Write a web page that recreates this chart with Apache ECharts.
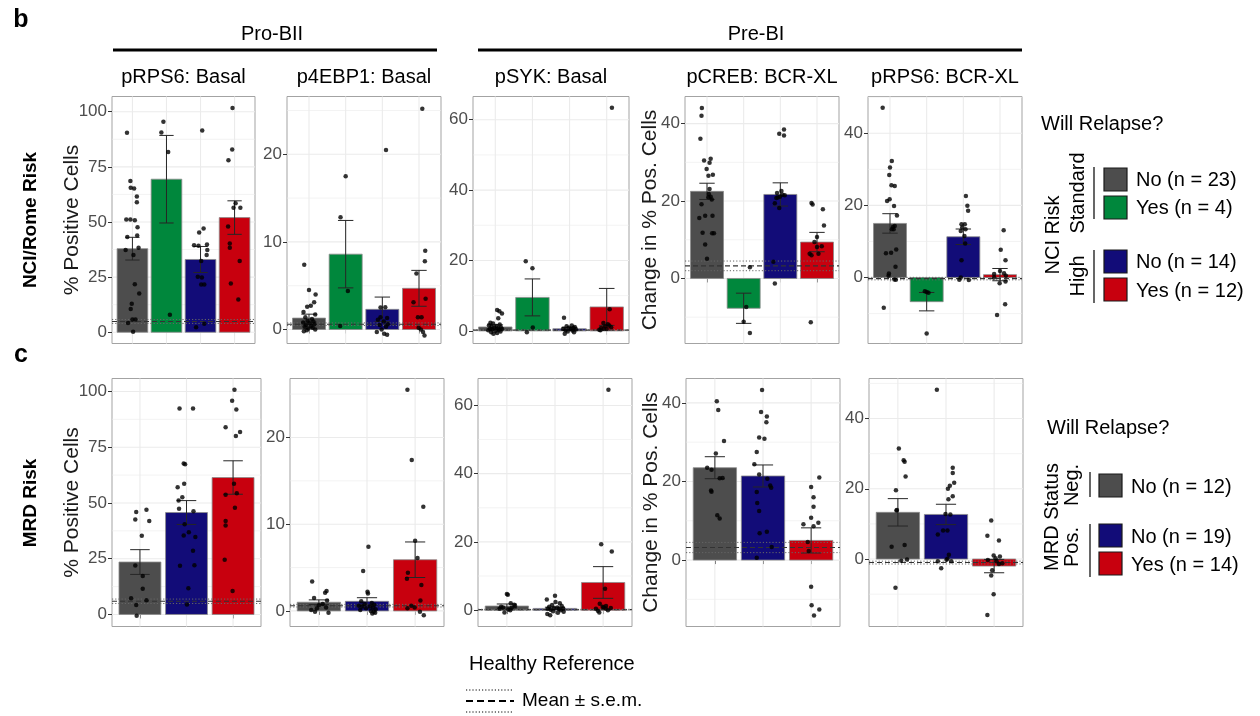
<!DOCTYPE html>
<html>
<head>
<meta charset="utf-8">
<script src="https://cdn.jsdelivr.net/npm/echarts@6/dist/echarts.min.js"></script>
<style>
  html, body { margin: 0; padding: 0; background: #fff; }
  #chart { width: 1260px; height: 716px; }
</style>
</head>
<body>
<div id="chart"></div>
<script>
// groups shown in each row
const nciGroups = ['Standard / No', 'Standard / Yes', 'High / No', 'High / Yes'];
const nciCounts = [23, 4, 14, 12];
const mrdGroups = ['Neg. / No', 'Pos. / No', 'Pos. / Yes'];
const mrdCounts = [12, 19, 14];

// tick labels per marker
const rps6BasalTicks = [0, 25, 50, 75, 100];
const ebp1BasalTicks = [0, 10, 20];
const sykBasalTicks = [0, 20, 40, 60];
const crebXlTicks = [0, 20, 40];
const rps6XlTicks = [0, 20, 40];

// ---------- NCI/Rome risk row ----------
const rps6BasalNciRange = [-5.1, 106.9];
const rps6BasalNciMean = [37.9, 69.4, 33.0, 52.0];
const rps6BasalNciSem = [5.15, 19.85, 5.9, 7.6];
const rps6BasalNciRef = [4.9, 0.9];
const rps6BasalNciPoints = [
  [0,-0.16,90.5],[0,-0.06,68.6],[0,-0.05,65.5],[0,0.05,65.2],[0,0.13,61.5],[0,0.13,58.9],[0,-0.18,51.1],[0,-0.06,51.1],
  [0,0.07,50.8],[0,0.15,47.6],[0,0.14,43.9],[0,-0.15,43.2],[0,0.18,38.3],[0,-0.2,37.3],[0,0.03,35.0],[0,0.07,21.8],
  [0,0.2,17.6],[0,-0.02,12.9],[0,-0.05,10.6],[0,0,5.8],[0,0.09,5.8],[0,-0.13,4.2],[0,0.02,0.2],
  [1,-0.09,95.5],[1,-0.15,90.6],[1,0.05,81.7],[1,0.1,7.9],
  [2,0.05,91.5],[2,0.09,47.1],[2,-0.04,45.2],[2,-0.19,39.4],[2,-0.06,39.2],[2,0.19,39.8],[2,0.2,37.3],[2,0.18,35.0],
  [2,0.02,32.3],[2,-0.08,25.2],[2,0.04,24.8],[2,0.02,21.7],[2,0.11,21.7],[2,0.11,3.9],[2,-0.13,2.3],
  [3,-0.06,101.7],[3,-0.07,82.9],[3,-0.18,78.0],[3,0.03,58.5],[3,0.17,56.5],[3,-0.03,56.5],[3,-0.19,47.9],[3,-0.14,40.2],
  [3,-0.14,38.3],[3,0.15,32.3],[3,-0.11,22.1],[3,0.11,14.8]
];

const ebp1BasalNciRange = [-1.6, 26.6];
const ebp1BasalNciMean = [1.3, 8.6, 2.3, 4.7];
const ebp1BasalNciSem = [0.45, 3.85, 1.4, 2.05];
const ebp1BasalNciRef = [0.6, 0.15];
const ebp1BasalNciPoints = [
  [0,-0.13,7.4],[0,0,4.5],[0,0.18,4.0],[0,0.14,3.1],[0,0.05,2.7],[0,-0.05,2.6],[0,-0.15,2.0],[0,0.17,1.7],[0,-0.1,1.4],
  [0,0.08,1.2],[0,-0.04,1.0],[0,0.12,0.9],[0,-0.16,0.8],[0,0.02,0.7],[0,0.15,0.6],[0,-0.08,0.5],[0,0.06,0.4],[0,-0.12,0.3],
  [0,0.1,0.2],[0,-0.02,0.1],[0,0.17,0.0],[0,-0.06,-0.1],[0,-0.14,-0.2],
  [1,0,17.5],[1,-0.14,12.8],[1,0.06,4.4],[1,-0.15,0.4],
  [2,0.1,20.5],[2,-0.05,2.5],[2,0.08,2.55],[2,-0.05,1.4],[2,0.13,1.3],[2,-0.12,1.1],[2,0.04,0.9],[2,0.15,0.6],[2,-0.07,0.5],
  [2,0.1,0.3],[2,-0.02,0.0],[2,-0.15,-0.3],[2,0.05,-0.5],[2,0.13,-0.6],
  [3,0.09,25.2],[3,0.17,9.0],[3,0.16,7.8],[3,-0.07,6.4],[3,-0.15,3.1],[3,0.18,3.5],[3,-0.03,1.4],[3,0.07,1.4],[3,-0.01,0.2],
  [3,0.05,0],[3,0.11,-0.3],[3,0.15,-0.7]
];

const sykBasalNciRange = [-3.6, 66.6];
const sykBasalNciMean = [1.1, 9.5, 0.6, 6.8];
const sykBasalNciSem = [0.6, 5.25, 0.4, 5.25];
const sykBasalNciRef = [0.2, 0.12];
const sykBasalNciPoints = [
  [0,0.05,5.9],[0,0.11,5.6],[0,0.18,4.9],[0,0.08,3.6],[0,-0.13,2.3],[0,-0.06,2.1],[0,0.12,1.8],[0,-0.17,1.6],[0,0.03,1.4],
  [0,-0.1,1.2],[0,0.15,1.0],[0,-0.03,0.9],[0,0.07,0.7],[0,-0.14,0.6],[0,0.18,0.5],[0,-0.08,0.4],[0,0.1,0.3],[0,-0.19,0.2],
  [0,0.01,0.0],[0,0.14,-0.2],[0,-0.11,-0.4],[0,0.05,-0.6],[0,-0.05,-0.8],
  [1,-0.18,19.8],[1,0,17.8],[1,0.01,0.95],[1,-0.15,-0.4],
  [2,-0.15,3.7],[2,0.06,1.5],[2,-0.08,1.3],[2,0.14,1.1],[2,-0.02,0.9],[2,0.1,0.8],[2,-0.17,0.6],[2,0.03,0.5],[2,0.17,0.4],
  [2,-0.11,0.2],[2,0.08,0.1],[2,-0.05,-0.2],[2,0.12,-0.4],[2,-0.13,-0.8],
  [3,0.14,63.4],[3,0.08,6.1],[3,-0.09,2.2],[3,0.03,1.9],[3,0.07,1.5],[3,-0.04,1.3],[3,0.12,1.0],[3,-0.15,0.8],[3,-0.08,0.6],
  [3,0,0.5],[3,-0.2,0.3],[3,-0.17,0.2]
];

const crebXlNciRange = [-16.8, 47];
const crebXlNciMean = [22.5, -7.7, 21.7, 9.4];
const crebXlNciSem = [2.1, 3.9, 3.0, 2.5];
const crebXlNciRef = [3.25, 1.25];
const crebXlNciPoints = [
  [0,-0.14,44.0],[0,-0.15,42.0],[0,-0.18,36.1],[0,-0.08,30.5],[0,0.1,30.9],[0,0.07,29.9],[0,-0.01,28.3],[0,0.16,26.8],
  [0,0.04,26.5],[0,0.07,23.1],[0,0.05,21.8],[0,0.1,21.1],[0,0.04,21.0],[0,0.13,20.4],[0,-0.15,19.2],[0,-0.21,15.6],
  [0,-0.05,16.2],[0,0.15,16.2],[0,-0.12,11.8],[0,0.14,11.7],[0,0.19,11.7],[0,-0.05,8.8],[0,0,5.1],
  [1,0.17,2.9],[1,0.07,-7.4],[1,0,-11.2],[1,0.17,-14.1],
  [2,-0.03,37.4],[2,0.1,38.5],[2,0.1,36.9],[2,0.03,22.6],[2,-0.09,22.1],[2,0.06,21.6],[2,0.12,21.5],[2,-0.01,21.1],
  [2,-0.07,20.9],[2,-0.11,20.8],[2,-0.15,19.4],[2,-0.03,18.2],[2,-0.19,4.3],[2,-0.15,-1.3],
  [3,-0.15,19.5],[3,-0.12,19.1],[3,0.16,17.9],[3,0.19,13.7],[3,0,10.7],[3,-0.07,9.4],[3,0.13,8.3],[3,0,8.1],[3,0.04,6.4],
  [3,-0.2,6.4],[3,-0.15,6.0],[3,-0.17,-11.3]
];

const rps6XlNciRange = [-18.3, 50.2];
const rps6XlNciMean = [15.0, -6.7, 11.3, 0.8];
const rps6XlNciSem = [2.7, 2.55, 2.15, 1.7];
const rps6XlNciRef = [-0.3, 0.35];
const rps6XlNciPoints = [
  [0,-0.2,47.1],[0,0.05,32.3],[0,0,30.5],[0,-0.02,28.4],[0,0.04,25.6],[0,0.13,25.4],[0,-0.01,21.7],[0,-0.08,21.2],
  [0,0.11,19.8],[0,0.19,17.2],[0,0.13,14.3],[0,0.08,14.0],[0,0.1,13.4],[0,0.05,13.4],[0,0.17,7.8],[0,0.03,6.9],
  [0,-0.11,6.7],[0,0.15,3.0],[0,-0.03,1.1],[0,-0.04,0.5],[0,0.12,-0.55],[0,0.16,-0.6],[0,-0.17,-8.4],
  [1,-0.05,-3.8],[1,0,-4.0],[1,0.05,-4.2],[1,0,-15.5],
  [2,0.07,22.6],[2,0.11,19.9],[2,0.13,18.5],[2,-0.05,14.8],[2,0.04,14.8],[2,-0.03,13.9],[2,0.06,13.4],[2,-0.07,12.9],
  [2,0.03,11.5],[2,0.05,9.4],[2,-0.05,4.8],[2,-0.07,0],[2,-0.11,-0.6],[2,0.15,-0.7],
  [3,0.1,13.1],[3,0.02,7.7],[3,0.15,4.8],[3,0,1.8],[3,0.11,1.2],[3,-0.16,1.0],[3,0.16,0.5],[3,-0.16,0.0],[3,0.15,-1.1],
  [3,-0.01,-1.6],[3,0.14,-7.4],[3,-0.08,-10.4]
];

// ---------- MRD risk row ----------
const rps6BasalMrdRange = [-5.4, 105.8];
const rps6BasalMrdMean = [23.5, 45.7, 61.4];
const rps6BasalMrdSem = [5.55, 5.35, 7.5];
const rps6BasalMrdRef = [5.9, 1.0];
const rps6BasalMrdPoints = [
  [0,0.14,46.9],[0,-0.08,45.9],[0,-0.1,42.6],[0,0.2,41.9],[0,0.04,35.3],[0,-0.1,22.0],[0,0.06,17.2],[0,0.06,11.5],
  [0,-0.19,7.3],[0,0.14,6.4],[0,-0.08,4.2],[0,-0.07,-0.6],
  [1,-0.15,92.4],[1,0.14,92.4],[1,-0.06,67.7],[1,-0.03,67.3],[1,-0.05,58.6],[1,-0.19,57.0],[1,-0.09,52.6],[1,-0.17,51.1],
  [1,-0.16,47.4],[1,0.15,46.3],[1,-0.04,40.5],[1,0.05,36.9],[1,-0.06,35.4],[1,0.19,34.7],[1,0.14,28.6],[1,-0.14,21.8],
  [1,0.17,22.1],[1,0.04,11.8],[1,0.01,4.5],
  [2,0.03,100.7],[2,-0.02,95.8],[2,0.07,91.9],[2,-0.16,83.9],[2,0.15,81.8],[2,0.06,80.0],[2,0.02,58.6],[2,-0.16,53.7],
  [2,0.08,54.3],[2,0.04,47.8],[2,-0.16,41.9],[2,-0.16,39.9],[2,-0.18,24.5],[2,-0.01,10.5]
];

const ebp1BasalMrdRange = [-1.8, 26.8];
const ebp1BasalMrdMean = [1.0, 1.1, 5.9];
const ebp1BasalMrdSem = [0.27, 0.42, 2.05];
const ebp1BasalMrdRef = [0.6, 0.15];
const ebp1BasalMrdPoints = [
  [0,-0.14,3.4],[0,0.16,2.3],[0,0.13,2.1],[0,-0.1,1.5],[0,0.17,1.2],[0,0.08,0.8],[0,0,0.65],[0,0.15,0.4],[0,-0.04,0.3],
  [0,-0.16,0.1],[0,-0.08,-0.1],[0,0.2,-0.2],
  [1,0.03,7.4],[1,-0.08,4.6],[1,0.01,2.2],[1,0.02,2.0],[1,-0.12,1.1],[1,0.1,0.9],[1,-0.05,0.8],[1,0.15,0.7],[1,-0.17,0.6],
  [1,0.06,0.5],[1,-0.1,0.5],[1,0.12,0.4],[1,-0.02,0.3],[1,0.18,0.2],[1,-0.14,0.1],[1,0.08,0.0],[1,0.14,-0.1],[1,0.17,-0.2],
  [1,0.11,-0.3],
  [2,-0.16,25.5],[2,-0.07,17.4],[2,0.17,12.0],[2,0,8.1],[2,0.05,6.1],[2,-0.15,4.4],[2,-0.17,3.7],[2,0.13,3.0],[2,0.11,1.2],
  [2,-0.08,0.6],[2,-0.01,0.4],[2,-0.16,0.3],[2,0.1,-0.1],[2,0.18,-0.5]
];

const sykBasalMrdRange = [-4.8, 67.9];
const sykBasalMrdMean = [1.2, 0.5, 8.1];
const sykBasalMrdSem = [0.6, 0.35, 4.65];
const sykBasalMrdRef = [0.15, 0.1];
const sykBasalMrdPoints = [
  [0,0,4.7],[0,0.02,4.5],[0,0.08,2.0],[0,0.15,1.6],[0,0.17,1.2],[0,-0.12,1.0],[0,-0.08,0.8],[0,0.1,0.7],[0,-0.15,0.4],
  [0,0.03,0.2],[0,0.07,0.0],[0,-0.05,-0.7],
  [1,0,4.2],[1,-0.17,3.1],[1,0.01,2.4],[1,0.1,2.0],[1,-0.06,1.5],[1,0.14,1.2],[1,-0.12,1.0],[1,0.05,0.8],[1,-0.02,0.6],
  [1,0.17,0.5],[1,-0.15,0.4],[1,0.08,0.3],[1,-0.09,0.1],[1,0.12,0.0],[1,-0.04,-0.3],[1,0.18,-0.5],[1,0.06,-0.8],
  [1,-0.16,-1.1],[1,-0.1,-1.5],
  [2,0.11,64.6],[2,-0.04,19.3],[2,0.18,17.2],[2,0.04,6.3],[2,-0.07,1.9],[2,0.06,1.2],[2,-0.01,1.0],[2,0.01,0.8],[2,0.16,0.6],
  [2,0.05,0.5],[2,-0.15,0.4],[2,0.1,0.0],[2,-0.11,-0.2],[2,-0.08,-0.7]
];

const crebXlMrdRange = [-16.9, 46.2];
const crebXlMrdMean = [23.5, 21.4, 5.0];
const crebXlMrdSem = [2.8, 2.8, 3.2];
const crebXlMrdRef = [3.2, 1.3];
const crebXlMrdPoints = [
  [0,0.04,40.4],[0,0.07,38.2],[0,0.19,30.3],[0,0.02,27.1],[0,-0.16,23.5],[0,-0.07,23.0],[0,0.1,20.8],[0,0.16,20.9],
  [0,-0.08,17.7],[0,-0.07,17.4],[0,0.05,11.4],[0,0.1,10.6],
  [1,-0.02,43.3],[1,-0.04,37.7],[1,0.08,36.5],[1,0.07,35.1],[1,-0.08,31.2],[1,0.03,30.9],[1,-0.13,27.5],[1,-0.18,24.4],
  [1,-0.08,21.8],[1,0.09,20.7],[1,0.15,19.0],[1,0.17,18.4],[1,-0.13,17.3],[1,-0.12,14.5],[1,-0.08,12.5],[1,-0.07,6.8],
  [1,0.08,7.2],[1,0.18,3.3],[1,-0.13,0.6],
  [2,0.17,21.0],[2,0,18.6],[2,0.05,16.0],[2,0.05,13.6],[2,0,10.8],[2,0.15,9.5],[2,-0.16,9.1],[2,0.05,8.6],[2,-0.07,4.6],
  [2,-0.05,2.3],[2,0,-6.8],[2,0.01,-11.5],[2,0.17,-12.6],[2,0.06,-14.1]
];

const rps6XlMrdRange = [-19.2, 51.4];
const rps6XlMrdMean = [13.3, 12.7, -2.0];
const rps6XlMrdSem = [3.9, 2.9, 1.9];
const rps6XlMrdRef = [-1.0, 0.4];
const rps6XlMrdPoints = [
  [0,0.02,31.5],[0,0.12,28.1],[0,0.14,27.7],[0,0.16,23.5],[0,-0.04,19.6],[0,-0.02,14.0],[0,-0.03,13.8],[0,0.14,4.0],
  [0,-0.13,3.5],[0,0.07,-0.5],[0,0.19,-0.1],[0,-0.05,-8.2],
  [1,-0.19,48.2],[1,0.14,26.0],[1,0.14,24.5],[1,0.17,21.7],[1,0.08,20.9],[1,0.04,20.0],[1,0.14,17.9],[1,0.05,17.0],
  [1,-0.01,12.8],[1,0.09,12.7],[1,-0.06,8.1],[1,0.03,8.1],[1,-0.17,7.0],[1,0.06,1.2],[1,0.03,0.1],[1,0.01,-0.2],
  [1,-0.17,-0.6],[1,0.11,-0.6],[1,-0.1,-2.6],
  [2,-0.06,11.0],[2,-0.14,6.6],[2,0.1,5.3],[2,-0.01,1.0],[2,0.12,0.7],[2,0.03,0.2],[2,-0.13,-0.3],[2,0.05,-0.6],
  [2,0.17,-1.2],[2,0.1,-1.4],[2,-0.04,-3.2],[2,-0.06,-4.7],[2,-0.01,-10.0],[2,-0.14,-15.9]
];

// ---------- styling ----------
const FONT = '"Liberation Sans", Arial, sans-serif';
const GRAY = '#4d4d4d', GREEN = '#00873c', BLUE = '#120c78', RED = '#c8000e';
const nciColors = [GRAY, GREEN, BLUE, RED];
const mrdColors = [GRAY, BLUE, RED];

const panels = [
  { box: [112, 96.5, 143, 247], range: rps6BasalNciRange, ticks: rps6BasalTicks, mean: rps6BasalNciMean, sem: rps6BasalNciSem, ref: rps6BasalNciRef, pts: rps6BasalNciPoints, colors: nciColors, yName: '% Positive Cells', gap: 29 },
  { box: [287, 96.5, 154, 247], range: ebp1BasalNciRange, ticks: ebp1BasalTicks, mean: ebp1BasalNciMean, sem: ebp1BasalNciSem, ref: ebp1BasalNciRef, pts: ebp1BasalNciPoints, colors: nciColors },
  { box: [473, 96.5, 156, 247], range: sykBasalNciRange, ticks: sykBasalTicks, mean: sykBasalNciMean, sem: sykBasalNciSem, ref: sykBasalNciRef, pts: sykBasalNciPoints, colors: nciColors },
  { box: [685, 96.5, 154, 247], range: crebXlNciRange, ticks: crebXlTicks, mean: crebXlNciMean, sem: crebXlNciSem, ref: crebXlNciRef, pts: crebXlNciPoints, colors: nciColors, yName: 'Change in % Pos. Cells', gap: 24 },
  { box: [868, 96.5, 154, 247], range: rps6XlNciRange, ticks: rps6XlTicks, mean: rps6XlNciMean, sem: rps6XlNciSem, ref: rps6XlNciRef, pts: rps6XlNciPoints, colors: nciColors },
  { box: [112, 378.5, 149, 248], range: rps6BasalMrdRange, ticks: rps6BasalTicks, mean: rps6BasalMrdMean, sem: rps6BasalMrdSem, ref: rps6BasalMrdRef, pts: rps6BasalMrdPoints, colors: mrdColors, yName: '% Positive Cells', gap: 29 },
  { box: [290, 378.5, 154, 248], range: ebp1BasalMrdRange, ticks: ebp1BasalTicks, mean: ebp1BasalMrdMean, sem: ebp1BasalMrdSem, ref: ebp1BasalMrdRef, pts: ebp1BasalMrdPoints, colors: mrdColors },
  { box: [478, 378.5, 154, 248], range: sykBasalMrdRange, ticks: sykBasalTicks, mean: sykBasalMrdMean, sem: sykBasalMrdSem, ref: sykBasalMrdRef, pts: sykBasalMrdPoints, colors: mrdColors },
  { box: [686, 378.5, 154, 248], range: crebXlMrdRange, ticks: crebXlTicks, mean: crebXlMrdMean, sem: crebXlMrdSem, ref: crebXlMrdRef, pts: crebXlMrdPoints, colors: mrdColors, yName: 'Change in % Pos. Cells', gap: 24 },
  { box: [869, 378.5, 154, 248], range: rps6XlMrdRange, ticks: rps6XlTicks, mean: rps6XlMrdMean, sem: rps6XlMrdSem, ref: rps6XlMrdRef, pts: rps6XlMrdPoints, colors: mrdColors }
];

function minorTicks(ticks, range) {
  const step = ticks[1] - ticks[0];
  const out = [];
  for (let v = ticks[0] - step / 2; v <= range[1]; v += step) {
    if (v >= range[0]) out.push(v);
  }
  return out;
}

function renderGridLine(params, api) {
  const cs = params.coordSys;
  const vertical = api.value(0) === 1;
  const v = api.value(1);
  const style = { stroke: '#ebebeb', lineWidth: api.value(2) === 1 ? 0.6 : 1.1 };
  if (vertical) {
    const x = api.coord([v, 0])[0];
    return { type: 'line', shape: { x1: x, y1: cs.y, x2: x, y2: cs.y + cs.height }, style: style };
  }
  const y = api.coord([1, v])[1];
  return { type: 'line', shape: { x1: cs.x, y1: y, x2: cs.x + cs.width, y2: y }, style: style };
}

function barRenderer(colors) {
  return function (params, api) {
    const g = api.value(0);
    const p0 = api.coord([g + 1 - 0.45, 0]);
    const p1 = api.coord([g + 1 + 0.45, api.value(1)]);
    return {
      type: 'rect',
      shape: { x: p0[0], y: Math.min(p0[1], p1[1]), width: p1[0] - p0[0], height: Math.abs(p1[1] - p0[1]) },
      style: { fill: colors[g], stroke: '#8c8c8c', lineWidth: 0.8 }
    };
  };
}

function renderErrorBar(params, api) {
  const g = api.value(0) + 1;
  const lo = api.coord([g, api.value(1)]);
  const hi = api.coord([g, api.value(2)]);
  const half = (api.coord([g + 0.21, 0])[0] - api.coord([g, 0])[0]);
  const st = { stroke: '#262626', lineWidth: 1 };
  return {
    type: 'group',
    children: [
      { type: 'line', shape: { x1: lo[0], y1: lo[1], x2: hi[0], y2: hi[1] }, style: st },
      { type: 'line', shape: { x1: lo[0] - half, y1: lo[1], x2: lo[0] + half, y2: lo[1] }, style: st },
      { type: 'line', shape: { x1: hi[0] - half, y1: hi[1], x2: hi[0] + half, y2: hi[1] }, style: st }
    ]
  };
}

function renderRefLine(params, api) {
  const cs = params.coordSys;
  const y = api.coord([1, api.value(0)])[1];
  const dashed = api.value(1) === 0;
  return {
    type: 'line',
    shape: { x1: cs.x, y1: y, x2: cs.x + cs.width, y2: y },
    style: dashed
      ? { stroke: '#333', lineWidth: 1.1, lineDash: [5, 3] }
      : { stroke: '#666', lineWidth: 1, lineDash: [1.2, 2] }
  };
}

const grids = [], xAxes = [], yAxes = [], series = [];
panels.forEach(function (p, i) {
  const n = p.mean.length;
  const cats = p.mean.map(function (_, k) { return k + 1; });
  grids.push({ left: p.box[0], top: p.box[1], width: p.box[2], height: p.box[3], show: true, borderColor: '#a3a3a3', borderWidth: 1, backgroundColor: 'transparent' });
  xAxes.push({
    gridIndex: i, type: 'value', min: 0.4, max: n + 0.6,
    axisLine: { show: false }, splitLine: { show: false }, axisLabel: { show: false },
    axisTick: { show: true, customValues: cats, length: 4, lineStyle: { color: '#333', width: 1 } }
  });
  yAxes.push({
    gridIndex: i, type: 'value', min: p.range[0], max: p.range[1],
    axisLine: { show: false }, splitLine: { show: false },
    axisTick: { show: true, customValues: p.ticks, length: 4, lineStyle: { color: '#333', width: 1 } },
    axisLabel: { customValues: p.ticks, color: GRAY, fontSize: 17, fontFamily: FONT, margin: 5 },
    name: p.yName || '', nameLocation: 'middle', nameRotate: 90, nameGap: p.gap || 28,
    nameMoveOverlap: false,
    nameTextStyle: { fontSize: 21, fontFamily: FONT, color: '#1a1a1a' }
  });

  const gridLines = [];
  p.ticks.forEach(function (t) { gridLines.push([0, t, 0]); });
  minorTicks(p.ticks, p.range).forEach(function (t) { gridLines.push([0, t, 1]); });
  cats.forEach(function (c) { gridLines.push([1, c, 0]); });

  series.push({ type: 'custom', xAxisIndex: i, yAxisIndex: i, z: 1, silent: true, renderItem: renderGridLine, data: gridLines });
  series.push({ type: 'custom', xAxisIndex: i, yAxisIndex: i, z: 2, silent: true, renderItem: barRenderer(p.colors),
    data: p.mean.map(function (m, k) { return [k, m]; }) });
  series.push({ type: 'custom', xAxisIndex: i, yAxisIndex: i, z: 3, silent: true, renderItem: renderRefLine,
    data: [[p.ref[0], 0], [p.ref[0] + p.ref[1], 1], [p.ref[0] - p.ref[1], 1]] });
  series.push({ type: 'custom', xAxisIndex: i, yAxisIndex: i, z: 4, silent: true, renderItem: renderErrorBar,
    data: p.mean.map(function (m, k) { return [k, m - p.sem[k], m + p.sem[k]]; }) });
  series.push({ type: 'scatter', xAxisIndex: i, yAxisIndex: i, z: 5, silent: true, symbolSize: 4.5,
    itemStyle: { color: '#000' },
    data: p.pts.map(function (d) { return [d[0] + 1 + d[1], d[2]]; }) });
});

function txt(x, y, s, size, opts) {
  opts = opts || {};
  return {
    type: 'text', x: x, y: y, rotation: opts.rot || 0, silent: true,
    style: { text: s, fontSize: size, fontFamily: FONT, fontWeight: opts.bold ? 'bold' : 'normal',
      fill: opts.color || '#000', align: opts.align || 'center', verticalAlign: 'middle' }
  };
}
function seg(x1, y1, x2, y2, w, dash) {
  return { type: 'line', silent: true, shape: { x1: x1, y1: y1, x2: x2, y2: y2 },
    style: { stroke: '#000', lineWidth: w, lineDash: dash || null } };
}
function key(x, y, w, h, color) {
  return { type: 'rect', silent: true, shape: { x: x, y: y, width: w, height: h },
    style: { fill: color, stroke: '#1a1a1a', lineWidth: 1.2 } };
}
const R90 = Math.PI / 2;

const graphics = [
  txt(21, 20, 'b', 25, { bold: true }),
  txt(21, 355, 'c', 25, { bold: true }),
  txt(272, 34, 'Pro-BII', 20),
  seg(113, 50, 437, 50, 3),
  txt(756, 34, 'Pre-BI', 20),
  seg(478, 50, 1022, 50, 3),
  txt(183.5, 77, 'pRPS6: Basal', 20),
  txt(364, 77, 'p4EBP1: Basal', 20),
  txt(551, 77, 'pSYK: Basal', 20),
  txt(762, 77, 'pCREB: BCR-XL', 20),
  txt(945, 77, 'pRPS6: BCR-XL', 20),
  txt(31, 220, 'NCI/Rome Risk', 19, { bold: true, rot: R90 }),
  txt(31, 503, 'MRD Risk', 19, { bold: true, rot: R90 }),

  // legend: NCI risk
  txt(1041, 124, 'Will Relapse?', 20, { align: 'left' }),
  txt(1053, 235, 'NCI Risk', 20, { rot: R90 }),
  txt(1078, 193, 'Standard', 20, { rot: R90 }),
  txt(1078, 276, 'High', 20, { rot: R90 }),
  seg(1094, 167, 1094, 219, 1.2),
  seg(1094, 250, 1094, 303, 1.2),
  key(1104, 168, 23, 23, GRAY), key(1104, 196, 23, 23, GREEN),
  key(1104, 250, 23, 23, BLUE), key(1104, 278, 23, 23, RED),
  txt(1136, 180, 'No (n = ' + nciCounts[0] + ')', 20, { align: 'left' }),
  txt(1136, 208, 'Yes (n = ' + nciCounts[1] + ')', 20, { align: 'left' }),
  txt(1136, 262, 'No (n = ' + nciCounts[2] + ')', 20, { align: 'left' }),
  txt(1136, 291, 'Yes (n = ' + nciCounts[3] + ')', 20, { align: 'left' }),

  // legend: MRD status
  txt(1047, 428, 'Will Relapse?', 20, { align: 'left' }),
  txt(1052, 517, 'MRD Status', 20, { rot: R90 }),
  txt(1072, 485, 'Neg.', 20, { rot: R90 }),
  txt(1072, 547, 'Pos.', 20, { rot: R90 }),
  seg(1090, 472, 1090, 497, 1.2),
  seg(1090, 524, 1090, 577, 1.2),
  key(1099, 474, 23, 23, GRAY),
  key(1099, 524, 23, 23, BLUE), key(1099, 552, 23, 23, RED),
  txt(1131, 487, 'No (n = ' + mrdCounts[0] + ')', 20, { align: 'left' }),
  txt(1131, 537, 'No (n = ' + mrdCounts[1] + ')', 20, { align: 'left' }),
  txt(1131, 565, 'Yes (n = ' + mrdCounts[2] + ')', 20, { align: 'left' }),

  // healthy reference legend
  txt(469, 664, 'Healthy Reference', 20, { align: 'left' }),
  seg(466, 690, 514, 690, 1, [1.2, 2]),
  seg(466, 701, 514, 701, 2.2, [7, 4]),
  seg(466, 712, 514, 712, 1, [1.2, 2]),
  txt(522, 701, 'Mean \u00b1 s.e.m.', 19, { align: 'left' })
];

const chart = echarts.init(document.getElementById('chart'), null, { renderer: 'canvas' });
chart.setOption({
  animation: false,
  backgroundColor: '#fff',
  grid: grids,
  xAxis: xAxes,
  yAxis: yAxes,
  series: series,
  graphic: graphics
});
</script>
</body>
</html>
